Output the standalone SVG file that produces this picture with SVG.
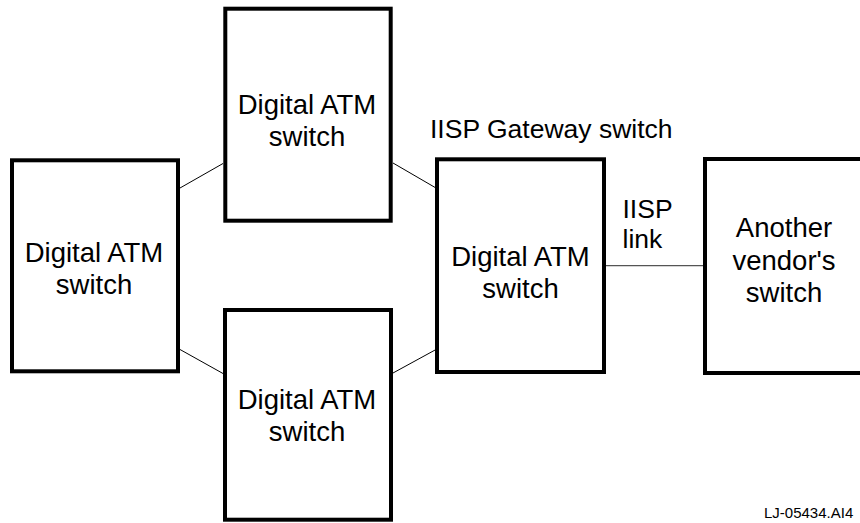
<svg xmlns="http://www.w3.org/2000/svg" width="860" height="523" viewBox="0 0 860 523">
<style>
.box{fill:#fff;stroke:#000;stroke-width:4}
.t{font-family:"Liberation Sans",Arial,sans-serif;font-size:27.5px;fill:#000;text-anchor:middle}
.l{font-family:"Liberation Sans",Arial,sans-serif;font-size:26.5px;fill:#000}
.c{stroke:#000;stroke-width:1;fill:none}
</style>
<rect x="0" y="0" width="860" height="523" fill="#fff"/>
<g id="connectors">
<line class="c" x1="180" y1="188" x2="223" y2="163.5"/>
<line class="c" x1="393" y1="163" x2="436" y2="188"/>
<line class="c" x1="180" y1="349.5" x2="223" y2="373.5"/>
<line class="c" x1="393" y1="373" x2="436" y2="349.5"/>
<line x1="606" y1="265.7" x2="703" y2="265.7" stroke="#555" stroke-width="1.3"/>
</g>
<g id="node-top">
<rect class="box" x="225.3" y="8.7" width="165.4" height="212"/>
<text class="t" x="307" y="114">Digital ATM</text>
<text class="t" x="307" y="146">switch</text>
</g>
<g id="node-left">
<rect class="box" x="12" y="160.3" width="166" height="211"/>
<text class="t" x="94" y="262">Digital ATM</text>
<text class="t" x="94" y="294">switch</text>
</g>
<g id="node-bottom">
<rect class="box" x="225" y="310" width="166" height="209.7"/>
<text class="t" x="307" y="408.5">Digital ATM</text>
<text class="t" x="307" y="440.5">switch</text>
</g>
<g id="node-gateway">
<text class="l" x="430" y="138.3">IISP Gateway switch</text>
<rect class="box" x="437" y="159.3" width="167" height="212.7"/>
<text class="t" x="520.5" y="266">Digital ATM</text>
<text class="t" x="520.5" y="298">switch</text>
</g>
<g id="link-label">
<text class="l" x="622.5" y="218.3">IISP</text>
<text class="l" x="622.5" y="248.3">link</text>
</g>
<g id="node-vendor">
<rect class="box" x="705" y="159" width="180" height="214"/>
<text class="t" x="784" y="237.3">Another</text>
<text class="t" x="784" y="269.5">vendor's</text>
<text class="t" x="784" y="301.5">switch</text>
</g>
<text x="764" y="518.3" font-family="Liberation Sans,Arial,sans-serif" font-size="15" fill="#000">LJ-05434.AI4</text>
</svg>
